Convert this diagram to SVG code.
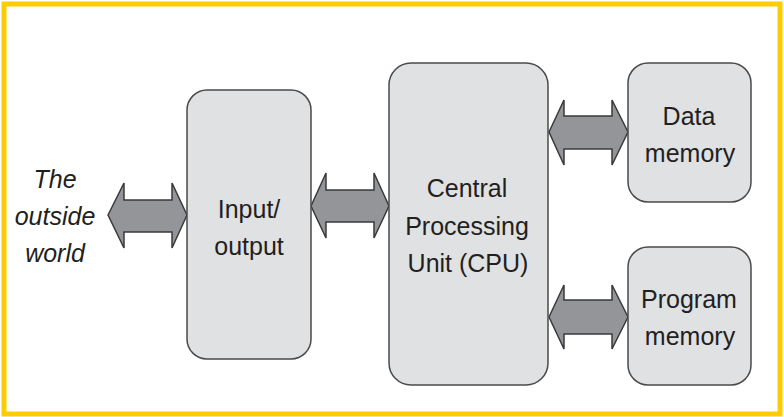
<svg xmlns="http://www.w3.org/2000/svg" width="784" height="417" viewBox="0 0 784 417">
<style>
.box{fill:#e0e1e3;stroke:#4a4a4a;stroke-width:1.5}
.arr{fill:#939598;stroke:#3a3a3a;stroke-width:1.5;stroke-linejoin:miter}
.t{font-family:"Liberation Sans",Arial,sans-serif;font-size:25px;fill:#231f20;text-anchor:middle}
.it{font-style:italic}
</style>
<rect x="0" y="0" width="784" height="417" fill="#ffffff"/>
<rect x="4" y="4" width="776" height="410" fill="none" stroke="#ffcc00" stroke-width="5"/>
<g id="connectors">
<polygon class="arr" points="108,215 124,183 124,200 172,200 172,183 187,215 172,248 172,232 124,232 124,248"/>
<polygon class="arr" points="311,206 326,173 326,190 374,190 374,173 389,206 374,238 374,222 326,222 326,238"/>
<polygon class="arr" points="549,132 564,100 564,116 612,116 612,100 628,132 612,165 612,149 564,149 564,165"/>
<polygon class="arr" points="549,317 564,285 564,300 612,300 612,285 628,317 612,349 612,334 564,334 564,349"/>
</g>
<g id="outside">
<text class="t it" x="55" y="188">The</text>
<text class="t it" x="55" y="225">outside</text>
<text class="t it" x="55" y="262">world</text>
</g>
<g id="io">
<rect class="box" x="187" y="90" width="124" height="269" rx="20"/>
<text class="t" x="249" y="218">Input/</text>
<text class="t" x="249" y="255">output</text>
</g>
<g id="cpu">
<rect class="box" x="389" y="63" width="159" height="322" rx="22"/>
<text class="t" x="467" y="197">Central</text>
<text class="t" x="467" y="235">Processing</text>
<text class="t" x="468" y="272">Unit (CPU)</text>
</g>
<g id="datamem">
<rect class="box" x="628" y="63" width="123" height="139" rx="20"/>
<text class="t" x="689" y="125">Data</text>
<text class="t" x="690" y="162">memory</text>
</g>
<g id="progmem">
<rect class="box" x="628" y="247" width="123" height="138" rx="20"/>
<text class="t" x="689" y="308">Program</text>
<text class="t" x="690" y="345">memory</text>
</g>
</svg>
